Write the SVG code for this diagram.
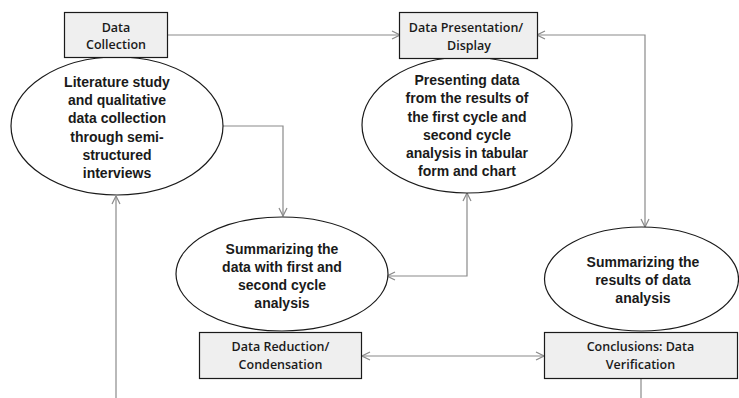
<svg xmlns="http://www.w3.org/2000/svg" width="739" height="398" viewBox="0 0 739 398">
  <style>
    .box { fill: #efefef; stroke: #1a1a1a; stroke-width: 1.2; }
    .oval { fill: #ffffff; stroke: #1a1a1a; stroke-width: 1.2; }
    .btxt { font-family: "Open Sans", "Liberation Sans", Arial, sans-serif; font-size: 12.5px; font-weight: 600; fill: #1a1a1a; text-anchor: middle; }
    .etxt { font-family: "Liberation Sans", Arial, sans-serif; font-size: 14px; font-weight: bold; fill: #1a1a1a; text-anchor: middle; }
    .wire { fill: none; stroke: #8a8a8a; stroke-width: 1.2; }
  </style>
  <defs>
    <marker id="arrow" viewBox="0 0 10 10" refX="9.5" refY="5" markerWidth="10" markerHeight="10" markerUnits="userSpaceOnUse" orient="auto-start-reverse">
      <path d="M1.5,1 L9.5,5 L1.5,9" fill="none" stroke="#8a8a8a" stroke-width="1.2"/>
    </marker>
  </defs>

  <rect width="739" height="398" fill="#ffffff"/>

  <!-- connectors -->
  <g id="connectors">
    <path class="wire" d="M167,35 H400" marker-end="url(#arrow)"/>
    <path class="wire" d="M223,126 H283 V216" marker-end="url(#arrow)"/>
    <path class="wire" d="M116,398 V196" marker-end="url(#arrow)"/>
    <path class="wire" d="M537,35 H645 V227" marker-start="url(#arrow)" marker-end="url(#arrow)"/>
    <path class="wire" d="M387,276 H467 V193" marker-start="url(#arrow)" marker-end="url(#arrow)"/>
    <path class="wire" d="M362,356 H544" marker-start="url(#arrow)" marker-end="url(#arrow)"/>
    <path class="wire" d="M641,378 V398"/>
  </g>

  <!-- collection -->
  <g id="collection-oval">
    <ellipse class="oval" cx="117" cy="126" rx="106" ry="69"/>
    <text class="etxt" x="117" y="87">Literature study</text>
    <text class="etxt" x="117" y="105">and qualitative</text>
    <text class="etxt" x="117" y="123">data collection</text>
    <text class="etxt" x="117" y="142">through semi-</text>
    <text class="etxt" x="117" y="160">structured</text>
    <text class="etxt" x="117" y="178">interviews</text>
  </g>
  <g id="collection-box">
    <rect class="box" x="64.5" y="12.5" width="103" height="45"/>
    <text class="btxt" x="116" y="31.5">Data</text>
    <text class="btxt" x="116" y="49">Collection</text>
  </g>

  <!-- presentation -->
  <g id="presentation-oval">
    <ellipse class="oval" cx="467" cy="125" rx="105" ry="68"/>
    <text class="etxt" x="467" y="85">Presenting data</text>
    <text class="etxt" x="467" y="103">from the results of</text>
    <text class="etxt" x="467" y="122">the first cycle and</text>
    <text class="etxt" x="467" y="140">second cycle</text>
    <text class="etxt" x="467" y="158">analysis in tabular</text>
    <text class="etxt" x="467" y="176">form and chart</text>
  </g>
  <g id="presentation-box">
    <rect class="box" x="399.5" y="12.5" width="138" height="46"/>
    <text class="btxt" x="466" y="31.5">Data Presentation/</text>
    <text class="btxt" x="469" y="49.5">Display</text>
  </g>

  <!-- reduction -->
  <g id="reduction-oval">
    <ellipse class="oval" cx="282" cy="274" rx="106" ry="57"/>
    <text class="etxt" x="282" y="254">Summarizing the</text>
    <text class="etxt" x="282" y="272">data with first and</text>
    <text class="etxt" x="282" y="290">second cycle</text>
    <text class="etxt" x="282" y="308">analysis</text>
  </g>
  <g id="reduction-box">
    <rect class="box" x="199.5" y="332.5" width="162" height="46"/>
    <text class="btxt" x="280.5" y="350.5">Data Reduction/</text>
    <text class="btxt" x="280.5" y="368.5">Condensation</text>
  </g>

  <!-- conclusions -->
  <g id="conclusions-oval">
    <ellipse class="oval" cx="641.5" cy="279" rx="97" ry="52"/>
    <text class="etxt" x="643" y="267">Summarizing the</text>
    <text class="etxt" x="643" y="285">results of data</text>
    <text class="etxt" x="643" y="303">analysis</text>
  </g>
  <g id="conclusions-box">
    <rect class="box" x="544.5" y="332.5" width="193" height="46"/>
    <text class="btxt" x="640.5" y="350.5">Conclusions: Data</text>
    <text class="btxt" x="640.5" y="369">Verification</text>
  </g>
</svg>
